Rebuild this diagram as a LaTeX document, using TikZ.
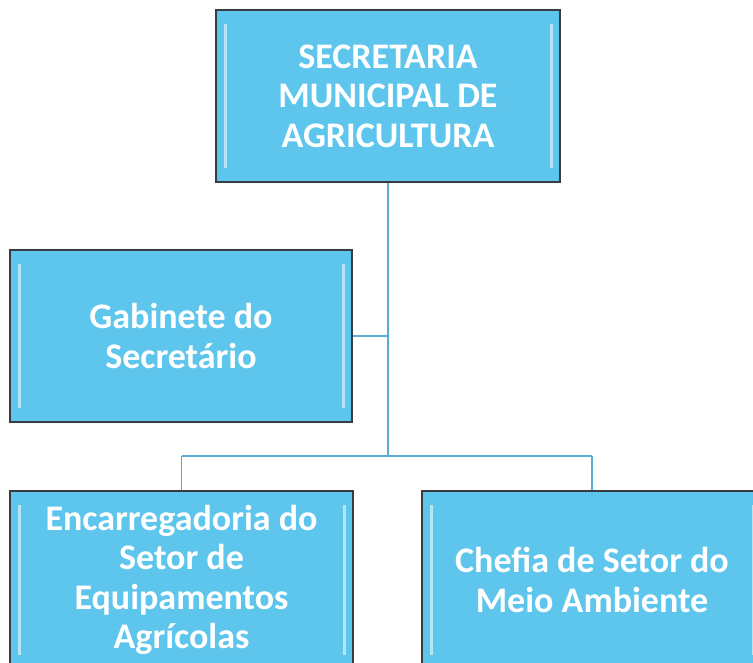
\documentclass[tikz,border=0pt]{standalone}
\usepackage{fontspec}
\setmainfont{Carlito}
\usepackage{tikz}

\definecolor{boxblue}{RGB}{94,198,236}
\definecolor{boxedge}{RGB}{55,60,62}
\definecolor{linkblue}{RGB}{88,172,212}

\tikzset{
  orgbox/.style={draw=boxedge, line width=1.6pt, fill=boxblue, text=white,
    font=\fontsize{36}{39.5}\selectfont\bfseries, align=center, inner sep=0pt,
    minimum height=172pt,
    path picture={
      \draw[white, opacity=.55, line width=3pt]
        ([xshift=9pt,yshift=-14pt]path picture bounding box.north west)
        -- ([xshift=9pt,yshift=14pt]path picture bounding box.south west);
      \draw[white, opacity=.55, line width=3pt]
        ([xshift=-9pt,yshift=-14pt]path picture bounding box.north east)
        -- ([xshift=-9pt,yshift=14pt]path picture bounding box.south east);
    }},
  link/.style={draw=linkblue, line width=1.8pt}
}

\begin{document}
\begin{tikzpicture}[x=1pt,y=-1pt]
\useasboundingbox (0,0) rectangle (753,662);

\node[orgbox, minimum width=344pt] (sec) at (388,96)
    {SECRETARIA\\MUNICIPAL DE\\AGRICULTURA};
\node[orgbox, minimum width=342pt] (gab) at (181,336)
    {Gabinete do\\Secretário};
\node[orgbox, minimum width=343pt, minimum height=178pt] (enc) at (181.5,580)
    {Encarregadoria do\\Setor de\\Equipamentos\\Agrícolas};
\node[orgbox, minimum width=340pt, minimum height=178pt] (chef) at (592,580)
    {Chefia de Setor do\\Meio Ambiente};

% connectors
\coordinate (fork) at (388,456);
\draw[link] (sec.south) -- (fork);
\draw[link] (gab.east) -- (gab.east -| sec.south);
\draw[link] (enc.north |- fork) -- (chef.north |- fork);
\draw[link] (enc.north |- fork) -- (enc.north);
\draw[link] (chef.north |- fork) -- (chef.north);
\end{tikzpicture}
\end{document}
